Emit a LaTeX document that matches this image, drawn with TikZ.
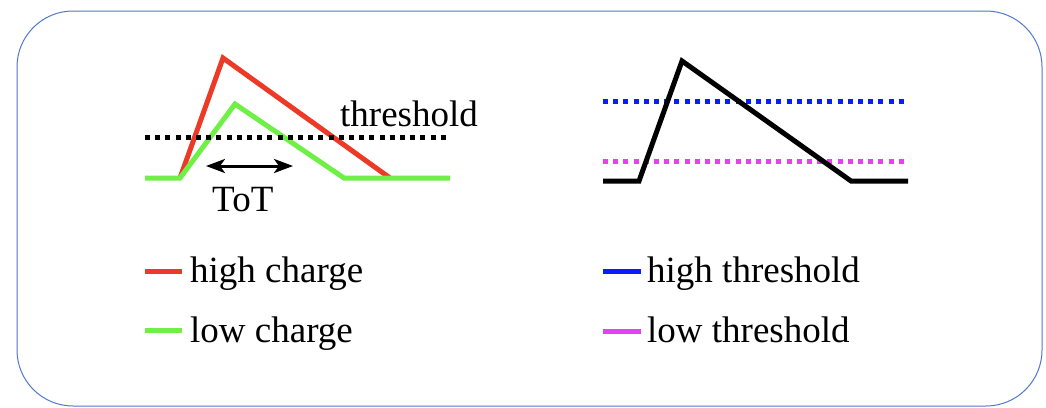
\documentclass[tikz,border=0pt]{standalone}
\usepackage{fontspec}
\setmainfont{Liberation Serif}
\usetikzlibrary{arrows.meta}
\definecolor{boxblue}{RGB}{80,120,205}
\definecolor{sigred}{RGB}{236,58,38}
\definecolor{siggreen}{RGB}{110,240,70}
\definecolor{thrblue}{RGB}{5,30,250}
\definecolor{thrmag}{RGB}{232,64,240}
\tikzset{
  sig/.style={line width=5pt, line join=miter},
  thr/.style={line width=5pt, dash pattern=on 5pt off 5.2pt},
  lbl/.style={font=\fontsize{37}{44}\selectfont, inner sep=0pt, anchor=base west},
  leg/.style={line width=5pt},
  dblarrow/.style={line width=3pt, {Stealth[length=19pt,width=14pt,inset=5pt]}-{Stealth[length=19pt,width=14pt,inset=5pt]}}
}
\begin{document}
\begin{tikzpicture}[x=1pt,y=-1pt]
\useasboundingbox (0,0) rectangle (1046,407);
\draw[boxblue, line width=1pt, rounded corners=56pt] (17,11) rectangle (1042,406);

% left plot
\coordinate (t1) at (145,137);
\coordinate (t2) at (447,137);
\coordinate (r0) at (180,178);
\coordinate (r1) at (223,58);
\coordinate (r2) at (390,178);
\draw[sig, sigred] (r0) -- (r1) -- (r2);
\coordinate (g0) at (145,178);
\coordinate (g1) at (180,178);
\coordinate (g2) at (235,104);
\coordinate (g3) at (344,178);
\coordinate (g4) at (450,178);
\draw[sig, siggreen] (g0) -- (g1) -- (g2) -- (g3) -- (g4);
\draw[thr, black] (t1) -- (t2);
\node[lbl] (thlab) at (340,126) {threshold};
\coordinate (a1) at (206,166);
\coordinate (a2) at (293,166);
\draw[dblarrow] (a1) -- (a2);
\node[lbl] (tot) at (212,211) {ToT};

% left legend
\node[lbl] (hc) at (190,282) {high charge};
\node[lbl] (lc) at (190,342) {low charge};
\coordinate (hcl) at (145,271);
\coordinate (lcl) at (145,330);
\draw[leg, sigred] (hcl) -- (182,271);
\draw[leg, siggreen] (lcl) -- (182,330);

% right plot
\coordinate (b1) at (603,101);
\coordinate (b2) at (905,101);
\coordinate (m1) at (603,161);
\coordinate (m2) at (905,161);
\draw[thr, thrblue] (b1) -- (b2);
\draw[thr, thrmag] (m1) -- (m2);
\coordinate (k0) at (603,181);
\coordinate (k1) at (639,181);
\coordinate (k2) at (682,61);
\coordinate (k3) at (851,181);
\coordinate (k4) at (908,181);
\draw[sig, black] (k0) -- (k1) -- (k2) -- (k3) -- (k4);

% right legend
\node[lbl] (ht) at (647,282) {high threshold};
\node[lbl] (lt) at (647,342) {low threshold};
\coordinate (htl) at (603,271);
\coordinate (ltl) at (603,331);
\draw[leg, thrblue] (htl) -- (641,271);
\draw[leg, thrmag] (ltl) -- (641,331);
\end{tikzpicture}
\end{document}
